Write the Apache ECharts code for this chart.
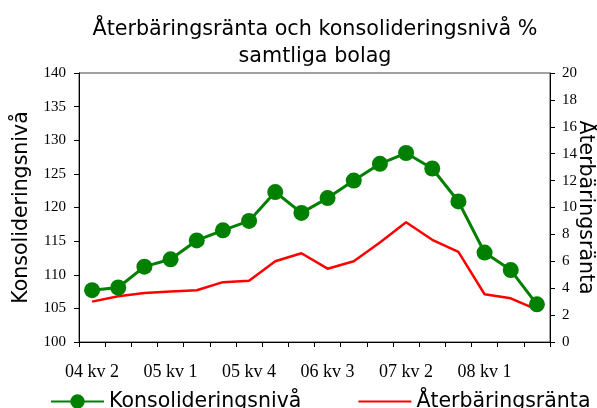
<!DOCTYPE html>
<html>
<head>
<meta charset="utf-8">
<script src="https://cdn.jsdelivr.net/npm/echarts@6/dist/echarts.min.js"></script>
<style>
html, body { margin: 0; padding: 0; background: #fff; }
#chart { width: 597px; height: 408px; }
</style>
</head>
<body>
<div id="chart"></div>
<script>
var quarters = ['04 kv 2', '04 kv 3', '04 kv 4', '05 kv 1', '05 kv 2', '05 kv 3',
    '05 kv 4', '06 kv 1', '06 kv 2', '06 kv 3', '06 kv 4', '07 kv 1',
    '07 kv 2', '07 kv 3', '07 kv 4', '08 kv 1', '08 kv 2', '08 kv 3'];
var konsolidering = [107.7, 108.1, 111.2, 112.3, 115.1, 116.6, 118.0, 122.3, 119.2,
    121.4, 124.0, 126.5, 128.1, 125.8, 120.9, 113.3, 110.7, 105.6];
var aterbaring = [3.0, 3.4, 3.65, 3.75, 3.85, 4.45, 4.55, 6.0, 6.6,
    5.45, 6.0, 7.4, 8.9, 7.6, 6.7, 3.55, 3.25, 2.4];

var chart = echarts.init(document.getElementById('chart'));
var serif = 'Liberation Serif';
var sans = 'DejaVu Sans';

var option = {
    animation: false,
    title: {
        text: 'Återbäringsränta och konsolideringsnivå %\nsamtliga bolag',
        left: 310,
        top: 11,
        textAlign: 'center',
        textStyle: { fontFamily: sans, fontSize: 20.7, fontWeight: 'normal', color: '#000', lineHeight: 27 }
    },
    legend: {
        left: 50,
        top: 391,
        width: 700,
        padding: 0,
        itemWidth: 53,
        itemHeight: 18,
        itemGap: 56,
        textStyle: { fontFamily: sans, fontSize: 20.5, color: '#000' },
        data: [
            { name: 'Konsolideringsnivå' },
            // line only, hide the default legend dot
            { name: 'Återbäringsränta', itemStyle: { opacity: 0 } }
        ]
    },
    grid: {
        left: 79,
        right: 47,
        top: 73,
        bottom: 66,
        outerBoundsMode: 'none',
        show: true,
        borderColor: '#444',
        borderWidth: 1
    },
    xAxis: {
        type: 'category',
        data: quarters,
        boundaryGap: true,
        axisLine: { lineStyle: { color: '#000' } },
        axisTick: { show: true, interval: 0, length: 5, lineStyle: { color: '#000' } },
        axisLabel: { interval: 2, fontFamily: serif, fontSize: 18, color: '#000', margin: 21 }
    },
    yAxis: [
        {
            type: 'value',
            min: 100,
            max: 140,
            interval: 5,
            name: 'Konsolideringsnivå',
            nameLocation: 'middle',
            nameGap: 47,
            nameTextStyle: { fontFamily: sans, fontSize: 20.5, color: '#000' },
            splitLine: { show: false },
            axisLine: { show: true, lineStyle: { color: '#000' } },
            axisTick: { show: true, length: 5, lineStyle: { color: '#000' } },
            axisLabel: { fontFamily: serif, fontSize: 15, color: '#000', margin: 13 }
        },
        {
            type: 'value',
            min: 0,
            max: 20,
            interval: 2,
            name: 'Återbäringsränta',
            nameLocation: 'middle',
            nameRotate: -90,
            nameGap: 25,
            nameMoveOverlap: false,
            nameTextStyle: { fontFamily: sans, fontSize: 20.5, color: '#000' },
            splitLine: { show: false },
            axisLine: { show: true, lineStyle: { color: '#000' } },
            axisTick: { show: true, length: 5, lineStyle: { color: '#000' } },
            axisLabel: { fontFamily: serif, fontSize: 15, color: '#000', margin: 12 }
        }
    ],
    series: [
        {
            name: 'Konsolideringsnivå',
            type: 'line',
            yAxisIndex: 0,
            data: konsolidering,
            symbol: 'circle',
            symbolSize: 16,
            showAllSymbol: true,
            itemStyle: { color: '#008000' },
            lineStyle: { color: '#008000', width: 3 }
        },
        {
            name: 'Återbäringsränta',
            type: 'line',
            yAxisIndex: 1,
            data: aterbaring,
            symbol: 'none',
            itemStyle: { color: '#ff0000' },
            lineStyle: { color: '#ff0000', width: 2.5 }
        }
    ]
};
chart.setOption(option);
window.onresize = chart.resize;
</script>
</body>
</html>
